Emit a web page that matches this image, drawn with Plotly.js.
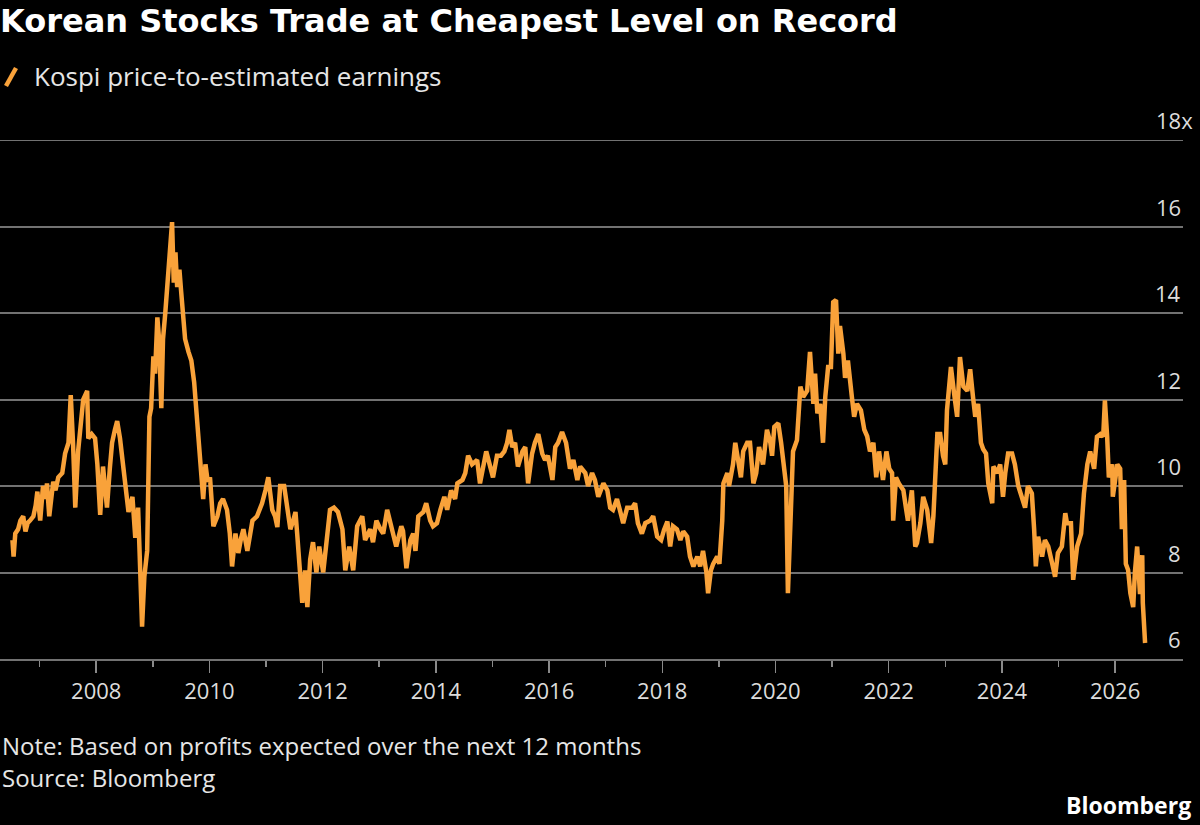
<!DOCTYPE html>
<html>
<head>
<meta charset="utf-8">
<script src="https://cdn.plot.ly/plotly-3.0.1.min.js"></script>
<style>
  html, body { margin: 0; padding: 0; background: #000; }
  #chart { width: 1200px; height: 825px; }
</style>
</head>
<body>
<div id="chart"></div>
<script>
// Kospi forward price-to-earnings, sampled in decimal years
const years = [
  2006.52, 2006.54, 2006.57, 2006.62, 2006.66, 2006.71, 2006.75, 2006.79, 2006.83, 2006.89,
  2006.93, 2006.96, 2007.01, 2007.06, 2007.10, 2007.13, 2007.17, 2007.21, 2007.24, 2007.28,
  2007.33, 2007.40, 2007.45, 2007.51, 2007.55, 2007.59, 2007.63, 2007.68, 2007.73, 2007.77,
  2007.84, 2007.86, 2007.92, 2007.98, 2008.02, 2008.07, 2008.12, 2008.16, 2008.19, 2008.24,
  2008.28, 2008.33, 2008.37, 2008.42, 2008.47, 2008.51, 2008.57, 2008.64, 2008.69, 2008.74,
  2008.78, 2008.81, 2008.85, 2008.90, 2008.94, 2008.97, 2009.01, 2009.04, 2009.08, 2009.11,
  2009.15, 2009.18, 2009.22, 2009.25, 2009.29, 2009.32, 2009.34, 2009.37, 2009.40, 2009.43,
  2009.47, 2009.50, 2009.54, 2009.57, 2009.63, 2009.68, 2009.73, 2009.78, 2009.84, 2009.89,
  2009.93, 2009.97, 2010.01, 2010.07, 2010.14, 2010.19, 2010.24, 2010.31, 2010.36, 2010.40,
  2010.46, 2010.51, 2010.56, 2010.60, 2010.67, 2010.72, 2010.76, 2010.84, 2010.93, 2010.99,
  2011.04, 2011.11, 2011.16, 2011.20, 2011.25, 2011.32, 2011.37, 2011.43, 2011.48, 2011.52,
  2011.55, 2011.60, 2011.64, 2011.69, 2011.73, 2011.78, 2011.83, 2011.89, 2011.94, 2012.01,
  2012.08, 2012.13, 2012.20, 2012.27, 2012.35, 2012.40, 2012.47, 2012.54, 2012.61, 2012.70,
  2012.75, 2012.84, 2012.89, 2012.95, 2013.02, 2013.07, 2013.14, 2013.23, 2013.30, 2013.39,
  2013.42, 2013.48, 2013.55, 2013.60, 2013.64, 2013.69, 2013.78, 2013.83, 2013.90, 2013.95,
  2014.02, 2014.08, 2014.15, 2014.20, 2014.27, 2014.34, 2014.38, 2014.47, 2014.52, 2014.57,
  2014.64, 2014.73, 2014.78, 2014.89, 2014.96, 2015.01, 2015.08, 2015.15, 2015.21, 2015.26,
  2015.30, 2015.35, 2015.40, 2015.45, 2015.53, 2015.58, 2015.63, 2015.70, 2015.75, 2015.81,
  2015.88, 2015.93, 2015.98, 2016.06, 2016.11, 2016.16, 2016.23, 2016.30, 2016.37, 2016.43,
  2016.50, 2016.55, 2016.64, 2016.69, 2016.76, 2016.81, 2016.87, 2016.96, 2017.03, 2017.08,
  2017.13, 2017.20, 2017.26, 2017.31, 2017.38, 2017.47, 2017.52, 2017.57, 2017.64, 2017.70,
  2017.79, 2017.84, 2017.91, 2017.98, 2018.03, 2018.09, 2018.14, 2018.19, 2018.26, 2018.32,
  2018.37, 2018.44, 2018.49, 2018.55, 2018.62, 2018.67, 2018.72, 2018.78, 2018.81, 2018.86,
  2018.90, 2018.97, 2019.01, 2019.06, 2019.08, 2019.15, 2019.18, 2019.25, 2019.29, 2019.34,
  2019.39, 2019.43, 2019.50, 2019.55, 2019.61, 2019.66, 2019.71, 2019.78, 2019.85, 2019.91,
  2019.94, 2019.98, 2020.05, 2020.10, 2020.14, 2020.19, 2020.22, 2020.28, 2020.31, 2020.38,
  2020.44, 2020.49, 2020.56, 2020.61, 2020.67, 2020.70, 2020.74, 2020.79, 2020.84, 2020.88,
  2020.93, 2020.98, 2021.02, 2021.07, 2021.11, 2021.14, 2021.20, 2021.23, 2021.28, 2021.35,
  2021.39, 2021.44, 2021.51, 2021.57, 2021.62, 2021.67, 2021.73, 2021.78, 2021.83, 2021.90,
  2021.96, 2022.01, 2022.06, 2022.08, 2022.13, 2022.18, 2022.26, 2022.31, 2022.34, 2022.41,
  2022.47, 2022.50, 2022.56, 2022.61, 2022.68, 2022.75, 2022.79, 2022.86, 2022.91, 2022.96,
  2023.00, 2023.03, 2023.10, 2023.16, 2023.21, 2023.26, 2023.32, 2023.39, 2023.44, 2023.49,
  2023.53, 2023.58, 2023.63, 2023.67, 2023.72, 2023.76, 2023.83, 2023.85, 2023.92, 2023.97,
  2024.02, 2024.06, 2024.11, 2024.18, 2024.23, 2024.29, 2024.36, 2024.41, 2024.46, 2024.53,
  2024.57, 2024.60, 2024.64, 2024.71, 2024.76, 2024.82, 2024.89, 2024.94, 2024.99, 2025.06,
  2025.12, 2025.15, 2025.22, 2025.26, 2025.33, 2025.40, 2025.45, 2025.51, 2025.56, 2025.63,
  2025.68, 2025.74, 2025.79, 2025.82, 2025.86, 2025.89, 2025.95, 2025.96, 2026.04, 2026.09,
  2026.12, 2026.16, 2026.19, 2026.23, 2026.27, 2026.32, 2026.35, 2026.39, 2026.44, 2026.48,
  2026.49, 2026.53
];

const peRatio = [
  8.75, 8.37, 8.9, 9.0, 9.2, 9.3, 8.95, 9.15, 9.2, 9.3,
  9.55, 9.87, 9.2, 10.0, 9.7, 10.06, 9.3, 9.8, 10.1, 9.9,
  10.2, 10.3, 10.75, 11.0, 12.1, 11.0, 9.5, 10.8, 11.4, 12.0,
  12.2, 11.1, 11.2, 11.1, 10.5, 9.33, 10.45, 10.0, 9.5, 10.4,
  11.0, 11.3, 11.5, 11.1, 10.6, 10.06, 9.4, 9.75, 8.8, 9.5,
  8.0, 6.75, 7.9, 8.5, 11.6, 11.8, 13.0, 12.6, 13.9, 13.4,
  11.8, 13.4, 14.0, 14.6, 15.3, 15.8, 16.1, 14.7, 15.4, 14.6,
  15.0, 14.5, 14.0, 13.4, 13.1, 12.9, 12.4, 11.5, 10.5, 9.7,
  10.5, 10.1, 10.2, 9.07, 9.3, 9.6, 9.7, 9.45, 8.9, 8.14,
  8.9, 8.45, 8.8, 9.0, 8.5, 8.9, 9.2, 9.3, 9.6, 9.9,
  10.2, 9.45, 9.3, 9.05, 10.0, 10.0, 9.45, 9.0, 9.2, 9.4,
  8.9, 7.9, 7.3, 8.05, 7.2, 8.3, 8.7, 8.0, 8.6, 8.0,
  9.0, 9.45, 9.5, 9.4, 9.0, 8.05, 8.6, 8.05, 9.07, 9.3,
  8.75, 9.0, 8.7, 9.2, 9.0, 8.9, 9.45, 9.0, 8.6, 9.07,
  8.96, 8.1, 8.75, 8.9, 8.5, 9.3, 9.4, 9.6, 9.2, 9.07,
  9.14, 9.45, 9.75, 9.45, 9.9, 9.7, 10.06, 10.14, 10.3, 10.7,
  10.5, 10.6, 10.06, 10.8, 10.45, 10.2, 10.7, 10.7, 10.8, 11.0,
  11.3, 10.9, 11.0, 10.45, 10.8, 10.9, 10.06, 10.75, 11.0, 11.2,
  10.75, 10.6, 10.7, 10.14, 10.9, 11.0, 11.25, 11.0, 10.4, 10.6,
  10.14, 10.45, 10.3, 10.0, 10.3, 10.14, 9.75, 10.06, 9.9, 9.5,
  9.45, 9.7, 9.4, 9.14, 9.5, 9.5, 9.6, 9.14, 8.9, 9.14,
  9.2, 9.3, 8.83, 8.75, 8.98, 9.18, 8.6, 9.07, 9.0, 8.75,
  8.95, 8.83, 8.37, 8.14, 8.37, 8.14, 8.5, 8.0, 7.52, 8.05,
  8.2, 8.37, 8.2, 9.2, 10.06, 10.3, 10.0, 10.5, 11.0, 10.5,
  10.2, 10.8, 11.0, 11.0, 10.06, 10.3, 10.9, 10.5, 11.3, 11.0,
  10.7, 11.37, 11.45, 11.0, 10.5, 10.0, 7.52, 9.8, 10.8, 11.06,
  12.3, 12.06, 12.2, 13.1, 11.9, 12.6, 11.68, 11.9, 11.0, 12.06,
  12.75, 12.75, 14.25, 14.3, 13.06, 13.7, 13.06, 12.5, 12.9, 12.06,
  11.6, 11.9, 11.75, 11.3, 11.15, 10.8, 11.0, 10.2, 10.8, 10.14,
  10.8, 10.4, 10.3, 9.2, 10.2, 10.06, 9.9, 9.45, 9.2, 9.9,
  8.6, 8.68, 9.14, 9.75, 9.45, 8.68, 9.3, 11.2, 11.2, 10.7,
  10.5, 11.75, 12.75, 12.1, 11.6, 12.98, 12.3, 12.2, 12.7, 12.06,
  11.6, 11.9, 11.0, 10.85, 10.75, 10.06, 9.6, 10.45, 10.3, 10.5,
  9.75, 10.3, 10.75, 10.75, 10.5, 10.0, 9.75, 9.5, 10.0, 9.83,
  9.0, 8.14, 8.83, 8.37, 8.75, 8.6, 8.2, 7.9, 8.45, 8.6,
  9.37, 9.14, 9.14, 7.83, 8.6, 8.9, 9.83, 10.5, 10.8, 10.4,
  11.14, 11.2, 11.14, 11.98, 11.14, 10.2, 10.5, 9.75, 10.5, 10.4,
  9.0, 10.14, 8.2, 8.06, 7.52, 7.2, 8.0, 8.6, 7.5, 8.4,
  7.3, 6.37
];

// Axis ticks
const xTickVals = [2008, 2010, 2012, 2014, 2016, 2018, 2020, 2022, 2024, 2026];
const xTickText = ['2008', '2010', '2012', '2014', '2016', '2018', '2020', '2022', '2024', '2026'];
const xMinorVals = [2007, 2009, 2011, 2013, 2015, 2017, 2019, 2021, 2023, 2025];
const yTickVals = [6, 8, 10, 12, 14, 16, 18];
const yTickText = ['6', '8', '10', '12', '14', '16', '18x'];
const Y_MIN = 6, Y_MAX = 18;

const chartTitle = 'Korean Stocks Trade at Cheapest Level on Record';
const seriesName = 'Kospi price-to-estimated earnings';
const noteText = 'Note: Based on profits expected over the next 12 months';
const sourceText = 'Source: Bloomberg';
const brandText = 'Bloomberg';

const ORANGE = '#f9a23a';
const GRID = '#727272';
const LABEL = '#dcdcdc';
const SANS = '"Open Sans", "Noto Sans", sans-serif';

const trace = {
  x: years,
  y: peRatio,
  type: 'scatter',
  mode: 'lines',
  name: seriesName,
  line: { color: ORANGE, width: 4.5 },
  hoverinfo: 'skip'
};

// y-axis labels sit just above their gridlines at the right edge
const yLabels = yTickVals.map((v, i) => ({
  xref: 'paper', x: 1, xanchor: 'right',
  xshift: yTickText[i].endsWith('x') ? 12 : 0,
  yref: 'y', y: v, yanchor: 'middle', yshift: 20,
  text: yTickText[i], showarrow: false,
  font: { family: SANS, size: 22, color: LABEL }
}));

const textNotes = [
  {
    xref: 'paper', x: 32 / 1183, xanchor: 'left',
    yref: 'paper', y: 1.1233, yanchor: 'middle',
    text: seriesName, showarrow: false,
    font: { family: SANS, size: 26, color: '#e6e6e6' }
  },
  {
    xref: 'paper', x: 0, xanchor: 'left',
    yref: 'paper', y: -0.1667, yanchor: 'middle',
    text: noteText, showarrow: false,
    font: { family: SANS, size: 24, color: '#e6e6e6' }
  },
  {
    xref: 'paper', x: 0, xanchor: 'left',
    yref: 'paper', y: -0.2283, yanchor: 'middle',
    text: sourceText, showarrow: false,
    font: { family: SANS, size: 24, color: '#e6e6e6' }
  },
  {
    xref: 'paper', x: 1.0085, xanchor: 'right',
    yref: 'paper', y: -0.2813, yanchor: 'middle',
    text: '<b>' + brandText + '</b>', showarrow: false,
    font: { family: SANS, size: 23, color: '#ffffff' }
  }
];

const layout = {
  width: 1200,
  height: 825,
  paper_bgcolor: '#000000',
  plot_bgcolor: '#000000',
  margin: { l: 0, r: 17, t: 140, b: 166, pad: 0 },
  showlegend: false,
  title: {
    text: '<b>' + chartTitle + '</b>',
    x: 0, xref: 'container', xanchor: 'left',
    y: 0.988, yref: 'container', yanchor: 'top',
    pad: { l: 0, t: 0 },
    font: { family: '"DejaVu Sans", sans-serif', size: 32, color: '#ffffff' }
  },
  xaxis: {
    type: 'linear',
    range: [2006.30, 2027.20],
    tickmode: 'array',
    tickvals: xTickVals,
    ticktext: xTickText,
    ticks: 'outside',
    ticklen: 12,
    tickwidth: 1.5,
    tickcolor: '#8a8a8a',
    minor: { tickmode: 'array', tickvals: xMinorVals, ticks: 'outside', ticklen: 6, tickwidth: 1.5, tickcolor: '#8a8a8a', showgrid: false },
    showgrid: false,
    zeroline: false,
    showline: true,
    linecolor: GRID,
    linewidth: 2,
    tickfont: { family: SANS, size: 22, color: LABEL },
    fixedrange: true
  },
  yaxis: {
    range: [Y_MIN, Y_MAX],
    tickmode: 'array',
    tickvals: yTickVals,
    showticklabels: false,
    ticks: '',
    showgrid: true,
    gridcolor: GRID,
    gridwidth: 2,
    zeroline: false,
    showline: false,
    fixedrange: true
  },
  shapes: [
    // top gridline sits on the range edge, so draw it explicitly
    {
      type: 'line', xref: 'paper', yref: 'y', layer: 'below',
      x0: 0, x1: 1, y0: Y_MAX, y1: Y_MAX,
      line: { color: GRID, width: 2 }
    },
    // legend swatch: short diagonal stroke
    {
      type: 'line', xref: 'paper', yref: 'paper',
      x0: 6 / 1183, y0: (659 - 86) / 519, x1: 16 / 1183, y1: (659 - 68) / 519,
      line: { color: ORANGE, width: 4.5 }
    }
  ],
  annotations: yLabels.concat(textNotes)
};

Plotly.newPlot('chart', [trace], layout, { displayModeBar: false, staticPlot: true });
</script>
</body>
</html>
